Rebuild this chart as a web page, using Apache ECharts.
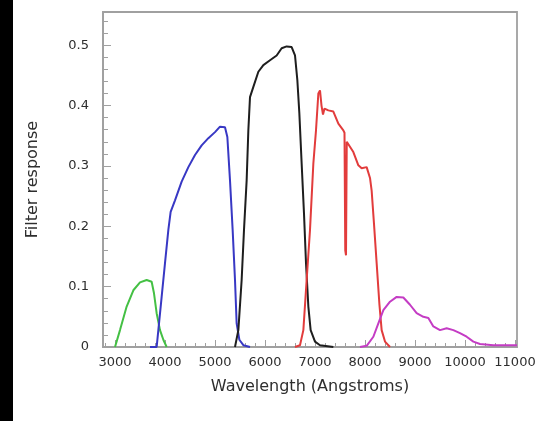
<!DOCTYPE html>
<html>
<head>
<meta charset="utf-8">
<script src="https://cdn.jsdelivr.net/npm/echarts@6/dist/echarts.min.js"></script>
<style>
  html, body { margin: 0; padding: 0; background: #ffffff; }
  #chart { width: 547px; height: 421px; }
</style>
</head>
<body>
<div id="chart"></div>
<script>
// Filter transmission curves: wavelength (Angstroms) vs. response
const wlU = [3000, 3100, 3233, 3367, 3500, 3633, 3733, 3780, 3833, 3900, 3967, 4033];
const respU = [0, 0.028, 0.067, 0.094, 0.107, 0.111, 0.108, 0.089, 0.056, 0.028, 0.012, 0];

const wlB = [3700, 3833, 3867, 3933, 4000, 4067, 4113, 4200, 4333, 4467, 4600, 4733, 4867, 5000, 5100, 5200, 5247, 5300, 5353, 5400, 5433, 5487, 5567, 5700];
const respB = [0, 0, 0.028, 0.083, 0.139, 0.194, 0.224, 0.243, 0.274, 0.298, 0.318, 0.334, 0.346, 0.356, 0.365, 0.364, 0.348, 0.276, 0.194, 0.111, 0.039, 0.012, 0.003, 0];

const wlV = [5400, 5467, 5533, 5580, 5633, 5667, 5700, 5767, 5867, 5967, 6100, 6233, 6333, 6433, 6533, 6600, 6647, 6687, 6733, 6780, 6820, 6867, 6913, 7000, 7100, 7367];
const respV = [0, 0.028, 0.111, 0.194, 0.276, 0.359, 0.414, 0.431, 0.456, 0.467, 0.475, 0.483, 0.495, 0.498, 0.497, 0.483, 0.442, 0.387, 0.304, 0.221, 0.139, 0.067, 0.028, 0.009, 0.003, 0];

const wlR = [6600, 6700, 6767, 6833, 6900, 6967, 7020, 7067, 7100, 7130, 7160, 7190, 7267, 7367, 7467, 7567, 7590, 7605, 7620, 7635, 7667, 7767, 7867, 7933, 8033, 8100, 8133, 8180, 8233, 8287, 8333, 8400, 8500];
const respR = [0, 0.003, 0.028, 0.111, 0.194, 0.304, 0.359, 0.42, 0.425, 0.40, 0.385, 0.395, 0.392, 0.39, 0.37, 0.359, 0.355, 0.16, 0.152, 0.34, 0.34, 0.323, 0.301, 0.296, 0.298, 0.28, 0.259, 0.204, 0.139, 0.072, 0.028, 0.009, 0];

const wlI = [7900, 8033, 8167, 8267, 8367, 8500, 8633, 8767, 8900, 9033, 9167, 9267, 9367, 9500, 9633, 9767, 9900, 10033, 10167, 10300, 10567, 10967, 11040];
const respI = [0, 0.002, 0.017, 0.039, 0.061, 0.075, 0.083, 0.082, 0.07, 0.056, 0.05, 0.048, 0.034, 0.028, 0.031, 0.028, 0.023, 0.017, 0.009, 0.005, 0.003, 0.003, 0.003];

// Tick labels
const xTicks = [3000, 4000, 5000, 6000, 7000, 8000, 9000, 10000, 11000];
const yTicks = [0, 0.1, 0.2, 0.3, 0.4, 0.5];

const X_MIN = 2760, X_MAX = 11040;
const Y_MIN = 0, Y_MAX = 0.555;

// minor tick positions
const xMinor = [];
for (let v = 2800; v <= 11000; v += 200) xMinor.push(v);
const yMinor = [];
for (let i = 1; i <= 27; i++) yMinor.push(+(i * 0.02).toFixed(2));

function pairs(xs, ys) { return xs.map((x, i) => [x, ys[i]]); }

const axisGray = '#a0a0a0';
const labelStyle = { color: '#2e2e2e', fontSize: 13, fontFamily: 'DejaVu Sans' };
const titleStyle = { color: '#2e2e2e', fontSize: 16, fontFamily: 'DejaVu Sans' };

const chart = echarts.init(document.getElementById('chart'), null, { renderer: 'canvas' });

function band(data, color) {
  return {
    type: 'line',
    xAxisIndex: 0,
    yAxisIndex: 0,
    data: data,
    showSymbol: false,
    silent: true,
    lineStyle: { color: color, width: 2 },
    z: 3
  };
}

chart.setOption({
  backgroundColor: '#ffffff',
  animation: false,
  graphic: [{
    type: 'rect',
    left: 0, top: 0,
    shape: { width: 13, height: 421 },
    style: { fill: '#000000' },
    z: 10
  }],
  grid: {
    left: 103, right: 30, top: 12, bottom: 74,
    show: true,
    borderColor: axisGray,
    borderWidth: 1.8,
    backgroundColor: '#ffffff'
  },
  xAxis: [{
    type: 'value',
    min: X_MIN, max: X_MAX,
    position: 'bottom',
    name: 'Wavelength (Angstroms)',
    nameLocation: 'middle',
    nameGap: 32,
    nameTextStyle: titleStyle,
    splitLine: { show: false },
    axisLine: { show: true, lineStyle: { color: axisGray, width: 1.8 } },
    axisTick: { show: true, inside: true, length: 7, customValues: xTicks, lineStyle: { color: axisGray, width: 1 } },
    axisLabel: Object.assign({ margin: 9, customValues: xTicks, formatter: v => String(v) }, labelStyle)
  }, {
    type: 'value',
    min: X_MIN, max: X_MAX,
    position: 'bottom',
    splitLine: { show: false },
    axisLine: { show: false },
    axisTick: { show: true, inside: true, length: 4, customValues: xMinor, lineStyle: { color: axisGray, width: 1 } },
    axisLabel: { show: false }
  }],
  yAxis: [{
    type: 'value',
    min: Y_MIN, max: Y_MAX,
    position: 'left',
    name: 'Filter response',
    nameLocation: 'middle',
    nameGap: 62,
    nameTextStyle: titleStyle,
    splitLine: { show: false },
    axisLine: { show: true, lineStyle: { color: axisGray, width: 1.8 } },
    axisTick: { show: true, inside: true, length: 8, customValues: yTicks, lineStyle: { color: axisGray, width: 1 } },
    axisLabel: Object.assign({ margin: 14, customValues: yTicks, formatter: v => (v === 0 ? '0' : v.toFixed(1)) }, labelStyle)
  }, {
    type: 'value',
    min: Y_MIN, max: Y_MAX,
    position: 'left',
    splitLine: { show: false },
    axisLine: { show: false },
    axisTick: { show: true, inside: true, length: 5, customValues: yMinor, lineStyle: { color: axisGray, width: 1 } },
    axisLabel: { show: false }
  }],
  series: [
    band(pairs(wlU, respU), '#44c044'),
    band(pairs(wlB, respB), '#3838c4'),
    band(pairs(wlV, respV), '#1e1e1e'),
    band(pairs(wlR, respR), '#e23c3c'),
    band(pairs(wlI, respI), '#c43cc4')
  ]
});
</script>
</body>
</html>
